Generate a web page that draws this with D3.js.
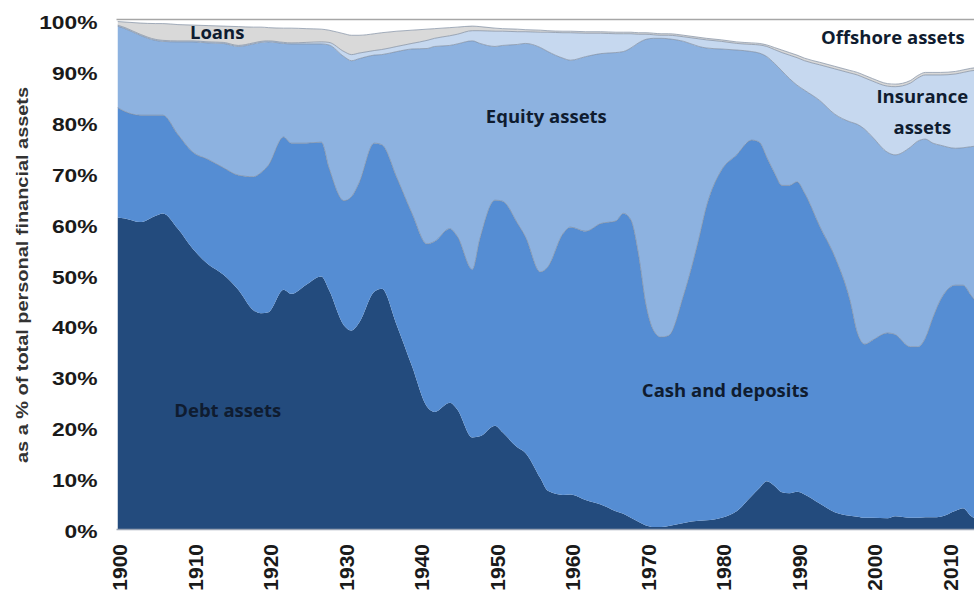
<!DOCTYPE html>
<html>
<head>
<meta charset="utf-8">
<script src="https://cdn.jsdelivr.net/npm/d3@7"></script>
<style>
  html, body { margin: 0; padding: 0; background: #fff; }
  svg { display: block; }
</style>
</head>
<body>
<svg id="chart" width="974" height="596"></svg>
<script>
// ---- data (percent of total personal financial assets) ----
const years = [1900,1901,1903,1905,1906,1908,1910,1912,1914,1916,1918,1919,1920,1922,1923,1925,1927,1928,1930,1931,1932,1934,1935,1937,1939,1941,1942,1944,1945,1947,1948,1950,1951,1953,1954,1956,1957,1959,1960,1962,1964,1966,1967,1968,1969,1970,1971,1972,1973,1975,1977,1978,1980,1982,1984,1985,1986,1987,1988,1989,1990,1991,1993,1995,1997,1998,1999,2000,2002,2003,2005,2006,2007,2008,2009,2011,2012,2013,2014];

const debtAssets = [61.2,61,60.3,61.5,62,59,55,52,50,47,43,42.4,42.6,47,46.2,48,49.6,47,40,39,40.5,46.6,47.2,40,32,24,23,24.8,23.5,18,18.2,20.3,19,16,15,10,7.5,6.7,6.8,5.7,4.8,3.5,3,2.2,1.4,0.7,0.4,0.4,0.6,1.2,1.6,1.7,2.2,3.5,6.5,8,9.4,8.5,7.2,7,7.3,6.8,5,3.3,2.6,2.4,2.2,2.2,2.1,2.5,2.2,2.2,2.3,2.3,2.4,3.6,4.1,2.6,1.8];

const cashDeposits = [21.6,21,21,19.8,19.3,18.5,19,20.6,21,22.5,26.2,27.6,28.9,30,29.6,27.8,26.4,24,24.5,26.3,27.5,29.2,28.3,29,30,32,33.5,34.2,34,33,38.8,44.3,45.4,44,42.5,40.5,44,51.3,52.5,52.8,55.2,57,59,58.5,52.6,43.3,38.6,37.3,37.4,44.8,55.4,61.6,68.3,70,69.9,68,63.6,61.5,60.3,60.5,60.9,59.2,54.5,50.2,42.4,36.1,34.1,34.9,36.4,35.7,33.6,33.6,35.2,39.2,42.6,44.3,43.8,43.4,42.2];

const equityAssets = [16,16.3,15.7,14.7,14.5,18.2,21.7,22.9,24.4,25.3,26.1,25.6,24.2,18.4,19.5,19.5,19.3,24.1,28.3,26.7,24.4,17.3,17.7,24.8,32.3,38.4,38.3,36,37.8,44.9,38.4,30.2,30.6,35.2,37.9,44.1,42.3,34.5,32.8,34.3,33.4,33.1,31.8,33.8,41.5,52.2,57.4,58.7,58.3,49.8,37.8,31.2,23.8,20.6,17.4,17.5,19.8,21.5,22.5,21,19,20.2,24.7,28,35,41,42.2,39.9,35.5,35.3,39.2,40.4,39.1,34.3,30.4,26.9,27,29.1,31.3];

const insuranceAssets = [0.2,0.2,0.2,0.2,0.2,0.2,0.2,0.2,0.2,0.2,0.2,0.2,0.2,0.2,0.2,0.3,0.4,0.5,1.0,1.2,1.1,0.9,1.0,1.0,1.1,1.6,1.6,1.9,1.9,2.0,2.5,3.0,2.8,2.5,2.3,3.0,3.8,5.0,5.4,4.6,4.0,3.7,3.5,2.8,1.7,1.0,0.7,0.6,0.7,0.9,1.5,1.6,1.5,1.3,1.4,1.6,2.0,2.7,3.6,4.6,5.4,5.8,7.0,8.9,9.6,9.7,10.1,11,13,13.4,12.6,12.4,12.6,13.4,13.8,14.6,14.8,14.9,14.9];

const loans = [0.7,1.1,2.2,3.1,3.3,3.2,3.1,3.2,3.2,3.7,3.1,2.8,2.6,2.8,2.9,2.7,2.5,2.4,3.5,3.8,3.5,3.3,3.3,3,2.6,2.2,1.9,1.6,1.4,0.9,0.8,0.6,0.5,0.5,0.4,0.4,0.3,0.3,0.3,0.3,0.3,0.3,0.3,0.3,0.3,0.3,0.3,0.3,0.3,0.3,0.3,0.3,0.3,0.3,0.3,0.3,0.3,0.4,0.5,0.5,0.5,0.5,0.5,0.5,0.5,0.5,0.5,0.5,0.5,0.5,0.5,0.5,0.5,0.5,0.5,0.5,0.5,0.5,0.5];

const offshoreAssets = [0.3,0.4,0.6,0.7,0.7,0.9,1,1.1,1.2,1.3,1.4,1.4,1.5,1.6,1.6,1.7,1.8,2,2.7,3,3,2.7,2.5,2.2,2,1.8,1.7,1.5,1.4,1.2,1.3,1.6,1.7,1.8,1.9,2,2.1,2.2,2.2,2.3,2.3,2.4,2.4,2.4,2.5,2.5,2.6,2.7,2.7,3,3.4,3.6,3.9,4.3,4.5,4.6,4.9,5.4,5.9,6.4,6.9,7.5,8.3,9.1,9.9,10.3,10.9,11.5,12.5,12.6,11.9,10.9,10.3,10.3,10.3,10.1,9.8,9.5,9.3];

const seriesKeys = ["debt", "cash", "equity", "insurance", "loans", "offshore"];
const seriesColors = ["#234b7d", "#558dd3", "#8db2e0", "#c6d8ef", "#d9d9d9", "#ffffff"];

const yTickValues = [0,10,20,30,40,50,60,70,80,90,100];
const xTickValues = [1900,1910,1920,1930,1940,1950,1960,1970,1980,1990,2000,2010];

// area labels: text lines placed at (year, percent)
const areaLabels = [
  { lines: ["Loans"], year: 1913.2, value: 97.6 },
  { lines: ["Equity assets"], year: 1956.8, value: 81.1 },
  { lines: ["Cash and deposits"], year: 1980.5, value: 27.3 },
  { lines: ["Debt assets"], year: 1914.6, value: 23.2 },
  { lines: ["Offshore assets"], year: 2002.7, value: 96.5 },
  { lines: ["Insurance", "assets"], year: 2006.6, value: 85.0 }
];

// ---- build table ----
const table = years.map((yr, i) => ({
  year: yr,
  debt: debtAssets[i],
  cash: cashDeposits[i],
  equity: equityAssets[i],
  insurance: insuranceAssets[i],
  loans: loans[i],
  offshore: offshoreAssets[i]
}));

const svg = d3.select("#chart");
const W = 974;
const plotLeft = 117.5, plotTop = 20, plotBottom = 529;

const x = d3.scaleLinear().domain([1900, 2014]).range([plotLeft, plotLeft + 114 * 7.55]);
const y = d3.scaleLinear().domain([0, 100]).range([plotBottom, plotTop]);

const stacked = d3.stack().keys(seriesKeys)(table);

svg.append("defs").append("clipPath").attr("id", "plotclip")
  .append("rect").attr("x", plotLeft).attr("y", plotTop - 2).attr("width", W - plotLeft).attr("height", plotBottom - plotTop + 2);

const g = svg.append("g").attr("clip-path", "url(#plotclip)");

const area = d3.area()
  .x(d => x(d.data.year))
  .y0(d => y(d[0]))
  .y1(d => y(Math.min(100, d[1])))
  .curve(d3.curveMonotoneX);

const topLine = d3.line()
  .x(d => x(d.data.year))
  .y(d => y(Math.min(100, d[1])))
  .curve(d3.curveMonotoneX);

g.selectAll("path.area")
  .data(stacked)
  .join("path")
  .attr("class", "area")
  .attr("fill", (d, i) => seriesColors[i])
  .attr("d", area);

g.selectAll("path.edge")
  .data(stacked.slice(1, 5))
  .join("path")
  .attr("class", "edge")
  .attr("fill", "none")
  .attr("stroke", "#7d8ba0")
  .attr("stroke-opacity", 0.7)
  .attr("stroke-width", 1)
  .attr("d", topLine);

// top border
svg.append("line")
  .attr("x1", plotLeft - 1).attr("x2", W)
  .attr("y1", y(100) - 0.5).attr("y2", y(100) - 0.5)
  .attr("stroke", "#a6a6a6").attr("stroke-width", 1.5);

// x axis line
svg.append("line")
  .attr("x1", plotLeft - 1).attr("x2", W)
  .attr("y1", plotBottom + 0.5).attr("y2", plotBottom + 0.5)
  .attr("stroke", "#9aa4b4").attr("stroke-width", 1.5);

// y axis
const yAxis = d3.axisLeft(y).tickValues(yTickValues).tickFormat(d => d + "%").tickSize(0).tickPadding(0);
const yg = svg.append("g").attr("transform", `translate(${plotLeft - 20},2.5)`).call(yAxis);
yg.select(".domain").remove();
yg.selectAll("text")
  .attr("font-family", "Liberation Sans, Arial, sans-serif")
  .attr("font-weight", "bold")
  .attr("font-size", 19)
  .attr("fill", "#1a1a1a")
  .each(function() {
    const len = this.getComputedTextLength();
    d3.select(this).attr("textLength", len * 1.2).attr("lengthAdjust", "spacingAndGlyphs");
  });

// x axis labels
const xAxis = d3.axisBottom(x).tickValues(xTickValues).tickFormat(d3.format("d")).tickSize(0).tickPadding(0);
const xg = svg.append("g").attr("transform", `translate(1.5,${plotBottom + 15})`).call(xAxis);
xg.select(".domain").remove();
xg.selectAll("text")
  .attr("font-family", "Liberation Sans, Arial, sans-serif")
  .attr("font-weight", "bold")
  .attr("font-size", 21)
  .attr("fill", "#1a1a1a")
  .attr("text-anchor", "end")
  .attr("transform", "rotate(-90)")
  .attr("x", 0)
  .attr("y", 0)
  .attr("dy", "0.36em");

// y axis title
svg.append("text")
  .attr("transform", `translate(28,${(87 + 463) / 2}) rotate(-90)`)
  .attr("text-anchor", "middle")
  .attr("font-family", "Liberation Sans, Arial, sans-serif")
  .attr("font-weight", "bold")
  .attr("font-size", 16)
  .attr("fill", "#333")
  .attr("textLength", 376)
  .attr("lengthAdjust", "spacingAndGlyphs")
  .text("as a % of total personal financial assets");

// area labels
areaLabels.forEach(l => {
  const t = svg.append("text")
    .attr("x", x(l.year))
    .attr("y", y(l.value))
    .attr("text-anchor", "middle")
    .attr("font-family", "Open Sans, sans-serif")
    .attr("font-weight", "bold")
    .attr("font-size", 18.5)
    .attr("fill", "#0f1c30");
  l.lines.forEach((line, k) => {
    t.append("tspan")
      .attr("x", x(l.year))
      .attr("dy", k === 0 ? "0.35em" : "1.7em")
      .text(line);
  });
});
</script>
</body>
</html>
